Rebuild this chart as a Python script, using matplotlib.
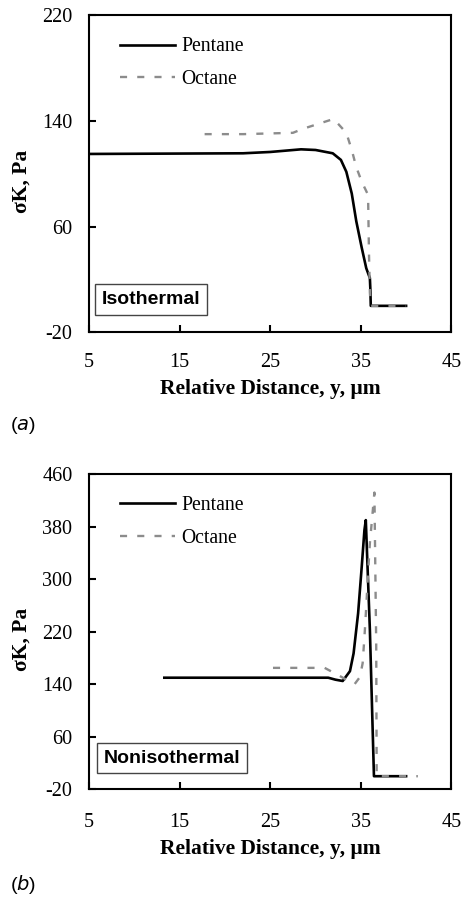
import numpy as np
import matplotlib
matplotlib.use("Agg")
import matplotlib.pyplot as plt

plt.rcParams['mathtext.fontset'] = 'dejavusans'
plt.rcParams['axes.unicode_minus'] = False

# (a) isothermal
iso_pent_x = [5, 22, 25, 28.4, 30, 31.9, 32.8, 33.4, 34.0, 34.5, 35.1, 35.6, 36.0, 36.05, 36.1, 40]
iso_pent_y = [115, 115.5, 116.5, 118.5, 118, 115.5, 110.5, 101.5, 85, 64, 44, 28.5, 21, 13, 0, 0]
iso_oct_x = [17.75, 22, 27.5, 28.6, 30.4, 32.0, 33.4, 34.0, 34.5, 35.1, 35.8, 35.9, 36.0, 36.1, 40]
iso_oct_y = [130, 130, 131, 134, 138, 141.5, 131, 118, 105, 94, 84, 40, 10, 0, 0]

# (b) nonisothermal
non_pent_x = [13.3, 31.4, 32.2, 33.0, 33.8, 34.2, 34.7, 35.1, 35.4, 35.55, 36.0, 36.45, 40]
non_pent_y = [150, 150, 147, 145, 160, 187, 248, 319, 375, 390, 223, 0, 0]
non_oct_x = [25.3, 31.0, 32.5, 34.3, 34.9, 35.2, 35.4, 35.6, 35.8, 36.0, 36.5, 36.7, 36.75, 41.3]
non_oct_y = [165, 165, 154, 140, 151, 172, 212, 258, 309, 355, 432, 200, 0, 0]

xticks = [5, 15, 25, 35, 45]
yticks_a = [-20, 60, 140, 220]
yticks_b = [-20, 60, 140, 220, 300, 380, 460]

serif = 'Liberation Serif'
sans = 'Liberation Sans'

fig = plt.figure(figsize=(4.62, 8.98), dpi=100)

panels = [
    ([0.193, 0.630, 0.784, 0.353], iso_pent_x, iso_pent_y, iso_oct_x, iso_oct_y,
     yticks_a, 'Isothermal', 0.021, 0.1025, 'a', 0.5267, 15),
    ([0.193, 0.121, 0.784, 0.351], non_pent_x, non_pent_y, non_oct_x, non_oct_y,
     yticks_b, 'Nonisothermal', 0.027, 0.099, 'b', 0.0145, 17),
]

for rect, px, py, ox, oy, yt, box, bx, by, letter, ly, xpad in panels:
    ax = fig.add_axes(rect)
    ax.plot(px, py, color='black', lw=1.9, label='Pentane')
    ax.plot(ox, oy, color='#8c8c8c', lw=1.7, dashes=(3.0, 4.3), label='Octane')
    ax.set_xlim(5, 45)
    ax.set_ylim(yt[0], yt[-1])
    ax.set_xticks(xticks)
    ax.set_yticks(yt)
    ax.tick_params(direction='in', length=5, width=1.5, top=False, right=False,
                   labelsize=14.5)
    ax.tick_params(axis='y', pad=12)
    ax.tick_params(axis='x', pad=xpad)
    for lab in ax.get_xticklabels() + ax.get_yticklabels():
        lab.set_family(serif)
    for s in ax.spines.values():
        s.set_linewidth(1.5)
    ax.set_xlabel('Relative Distance, y, μm', family=serif, fontweight='bold',
                  fontsize=15.5, labelpad=5)
    ax.set_ylabel('σK, Pa', family=serif, fontweight='bold', fontsize=15.5)
    ax.yaxis.set_label_coords(-0.16, 0.475)
    ax.legend(loc='upper left', bbox_to_anchor=(0.085, 0.93), frameon=False,
              prop={'family': serif, 'size': 14.2}, handlelength=2.8,
              handletextpad=0.3, labelspacing=0.7, borderaxespad=0, borderpad=0)
    ax.text(bx + 0.013, by, box, transform=ax.transAxes, family=sans, fontweight='bold',
            fontsize=14, va='center', ha='left',
            bbox=dict(boxstyle='square,pad=0.35', fc='white', ec='#444444', lw=1))
    fig.text(0.022, ly, '(' + r'$\mathit{' + letter + '}$' + ')', fontsize=14,
             family=sans, va='center')

fig.savefig('out.png', dpi=100)
